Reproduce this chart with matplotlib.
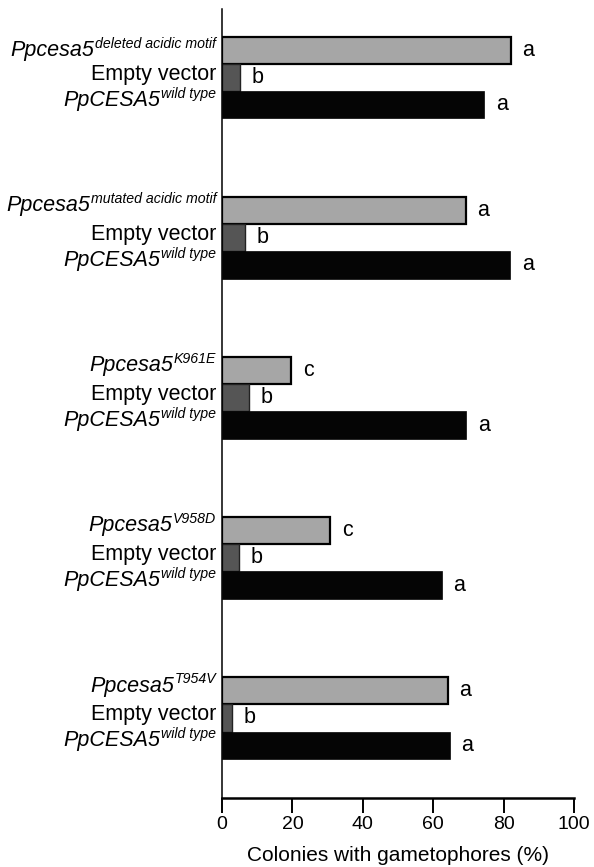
import matplotlib
matplotlib.use("Agg")
import matplotlib.pyplot as plt

plt.rcParams['font.family'] = ['Liberation Sans', 'DejaVu Sans']

# alelos mutantes (superindice) y valores (% colonias con gametoforos)
mutants = ['deleted acidic motif', 'mutated acidic motif',
           'K961E', 'V958D', 'T954V']
mutant_vals = [81.9, 69.2, 19.6, 30.7, 64.1]
empty_vals = [5.1, 6.5, 7.6, 4.7, 2.9]
wt_vals = [74.4, 81.8, 69.3, 62.4, 64.6]
mutant_letters = ['a', 'a', 'c', 'c', 'a']
empty_letters = ['b', 'b', 'b', 'b', 'b']
wt_letters = ['a', 'a', 'a', 'a', 'a']

STEP = 5.88      # separacion entre grupos (en alturas de barra)
PAD = 4.3        # hueco entre etiqueta y eje (pt)
BASE_FS, SUP_FS = 15.5, 10.2
SUP_RAISE = 5.8  # subida del superindice (pt)

fig = plt.figure(figsize=(5.94, 8.67), dpi=100)
ax = fig.add_axes([0.3737, 0.0796, 0.5931, 0.91])
renderer = fig.canvas.get_renderer()
ytr = ax.get_yaxis_transform()


def label(y, base, sup=None, drop=1.0, italic=True):
    """Etiqueta a la izquierda del eje: texto base + superindice opcional."""
    style = 'italic' if italic else 'normal'
    shift = 0.0
    if sup:
        t = ax.annotate(sup, (0, y), xycoords=ytr, xytext=(-PAD, -drop + SUP_RAISE),
                        textcoords='offset points', ha='right', va='baseline',
                        fontsize=SUP_FS, style='italic')
        shift = t.get_window_extent(renderer).width * 72 / fig.dpi + 0.3
    ax.annotate(base, (0, y), xycoords=ytr, xytext=(-PAD - shift, -drop),
                textcoords='offset points', ha='right', va='baseline',
                fontsize=BASE_FS, style=style)


for g, name in enumerate(mutants):
    y0 = g * STEP
    ax.barh(y0, mutant_vals[g], height=1.0, color='#a6a6a6',
            edgecolor='black', linewidth=1.6)
    ax.barh(y0 + 1, empty_vals[g], height=1.0, color='#555555',
            edgecolor='#222222', linewidth=1.0)
    ax.barh(y0 + 2, wt_vals[g], height=1.0, color='#050505',
            edgecolor='#050505', linewidth=0.5)
    for k, (v, lt) in enumerate(zip([mutant_vals[g], empty_vals[g], wt_vals[g]],
                                    [mutant_letters[g], empty_letters[g], wt_letters[g]])):
        ax.annotate(lt, (v, y0 + k), xytext=(8.5, 0), textcoords='offset points',
                    ha='left', va='center', fontsize=15.5)
    label(y0, 'Ppcesa5', name, drop=4.3 if g == 0 else 0.6)
    label(y0 + 1, 'Empty vector', drop=1.8, italic=False)
    label(y0 + 2, 'PpCESA5', 'wild type', drop=0.9)

ax.set_yticks([])
ax.set_ylim(4 * STEP + 2 + 1.94, -1.52)

ax.set_xlim(0, 100)
ax.set_xticks([0, 20, 40, 60, 80, 100])
ax.tick_params(axis='x', labelsize=14, length=10.8, width=1.4, pad=2.5,
               direction='out', color='black')
ax.set_xlabel('Colonies with gametophores (%)', fontsize=15, labelpad=9)

for s in ['top', 'right']:
    ax.spines[s].set_visible(False)
ax.spines['bottom'].set_linewidth(1.8)
ax.spines['left'].set_linewidth(1.1)

fig.savefig('out.png', dpi=100)
